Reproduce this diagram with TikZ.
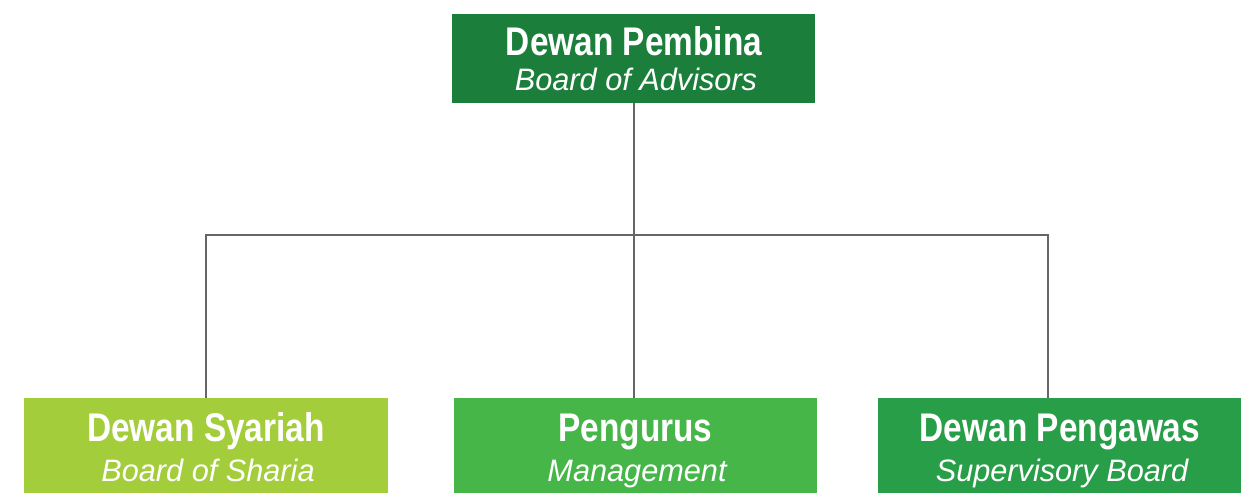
\documentclass[tikz,border=0pt]{standalone}
\usepackage{fontspec}
\setmainfont{Liberation Sans}
\newfontfamily\boldcond[FakeStretch=0.835]{Liberation Sans Bold}
\newfontfamily\italcond[FakeStretch=0.99]{Liberation Sans Italic}
\definecolor{cTop}{HTML}{1B7E3A}
\definecolor{cSya}{HTML}{A3CD3A}
\definecolor{cPen}{HTML}{47B649}
\definecolor{cPeng}{HTML}{289E48}
\definecolor{cLine}{HTML}{666666}
\begin{document}
\begin{tikzpicture}[x=1pt,y=-1pt,
  orgbox/.style={draw=none,rectangle,inner sep=0pt,minimum width=363pt},
  titletext/.style={text=white,anchor=base,inner sep=0pt,font=\boldcond\fontsize{40}{42}\selectfont},
  subtext/.style={text=white,anchor=base,inner sep=0pt,font=\italcond\fontsize{31}{33}\selectfont},
  conn/.style={draw=cLine,line width=1.8pt}]
\useasboundingbox (0,0) rectangle (1246,493);
\node[orgbox,fill=cTop,minimum height=89pt] (top) at (633.5,58.5) {};
\node[orgbox,fill=cSya,minimum height=95pt,minimum width=364pt] (b1) at (206,445.5) {};
\node[orgbox,fill=cPen,minimum height=95pt] (b2) at (635.5,445.5) {};
\node[orgbox,fill=cPeng,minimum height=95pt] (b3) at (1059.5,445.5) {};
\node[titletext] (t0) at (634,55) {Dewan Pembina};
\node[subtext] (s0) at (636,90) {Board of Advisors};
\node[titletext] (t1) at (206,441) {Dewan Syariah};
\node[subtext] (s1) at (208,481) {Board of Sharia};
\node[titletext] (t2) at (635.5,441) {Pengurus};
\node[subtext] (s2) at (637,481) {Management};
\node[titletext] (t3) at (1060,441) {Dewan Pengawas};
\node[subtext] (s3) at (1062,481) {Supervisory Board};
\coordinate (hl) at (206,235);
\coordinate (hr) at (1048,235);
\coordinate (hm) at (634,235);
\draw[conn] (top.south -| hm) -- (hm);
\draw[conn] (b1.north) -- (hl) -- (hr) -- (hr |- b3.north);
\draw[conn] (hm) -- (hm |- b2.north);
\end{tikzpicture}
\end{document}
